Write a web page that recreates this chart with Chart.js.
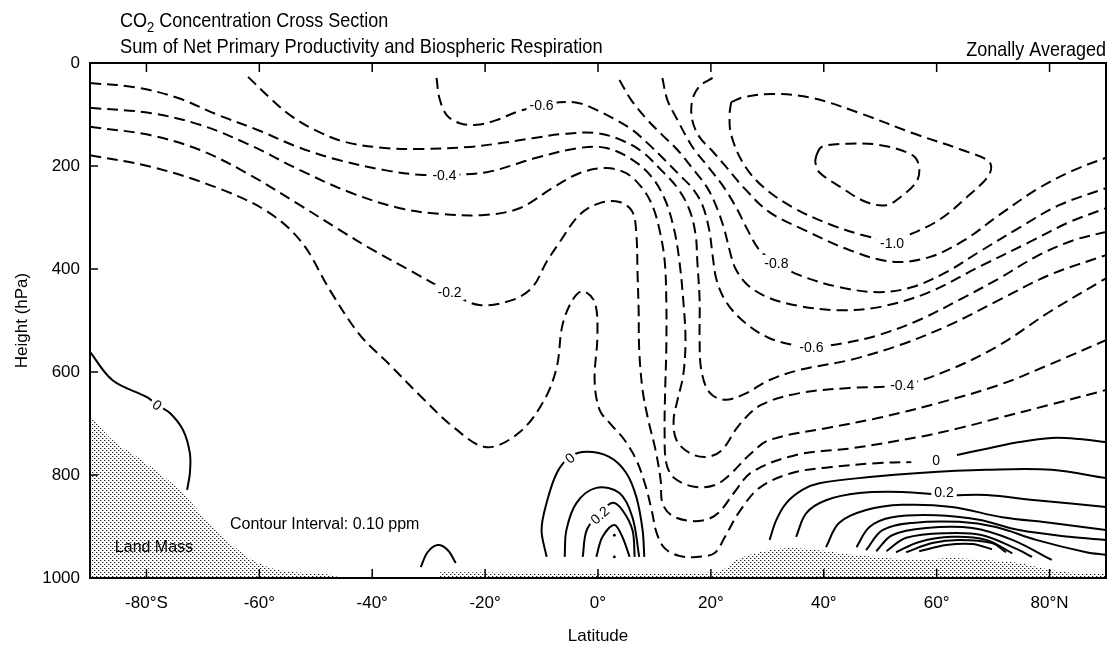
<!DOCTYPE html>
<html>
<head>
<meta charset="utf-8">
<script src="https://cdn.jsdelivr.net/npm/chart.js@4.4.1/dist/chart.umd.min.js"></script>
<style>
  html, body { margin: 0; padding: 0; background: #fff; }
  #wrap { width: 1110px; height: 647px; }
</style>
</head>
<body>
<div id="wrap"><canvas id="chart" width="1110" height="647"></canvas></div>
<script>
const FONT = '"Liberation Sans", Arial, Helvetica, sans-serif';

// Axis ticks
const latTicks = [-80, -60, -40, -20, 0, 20, 40, 60, 80];
const latTickLabels = ['-80°S', '-60°', '-40°', '-20°', '0°', '20°', '40°', '60°', '80°N'];
const pressureTicks = [0, 200, 400, 600, 800, 1000];

// Negative contours (dashed), [latitude, hPa]
const neg01 = [[-90,179],[-79.0,202],[-67.3,243],[-58.5,289],[-52.5,348],[-47.5,441],[-42.2,528],[-36.9,586],[-31.6,645],[-25.4,709],[-19.7,746],[-13.9,717],[-9.5,654],[-7.3,590],[-6.3,509],[-4.5,460],[-2.7,443],[-0.6,464],[-0.1,528],[-0.6,616],[0.3,674],[2.4,703],[4.7,732],[6.8,771],[8.4,820],[9.5,868],[10.4,913],[11.8,942],[14.4,957],[17.4,959],[20.6,952],[22.4,922],[25.0,872],[28.6,825],[34.4,796],[41.0,785],[49.3,777],[55.5,775]];
const neg02 = [[-90,124],[-79.4,140],[-70.5,169],[-61.7,217],[-52.8,276],[-45.8,324],[-39.9,363],[-33.4,402],[-26.3,445],[-21.0,470],[-15.1,460],[-11.6,435],[-9.1,386],[-6.8,348],[-3.3,295],[0.3,272],[3.8,270],[6.1,289],[6.8,334],[7.0,406],[7.2,480],[7.3,557],[7.9,635],[8.9,693],[10.2,752],[11.1,810],[11.4,854],[13.0,878],[16.2,889],[19.4,886],[21.5,872],[24.2,833],[27.3,794],[35.1,761],[45.0,748],[56.9,726],[64.0,709],[71.1,689],[79.9,664],[90,635]];
const neg03 = [[-90,87],[-79.4,97],[-70.5,120],[-61.7,159],[-52.8,208],[-44.0,251],[-35.1,282],[-28.1,293],[-20.1,295],[-13.9,282],[-8.1,243],[-3.3,214],[1.5,204],[5.0,214],[7.7,241],[9.6,276],[10.9,324],[11.8,383],[12.1,460],[12.1,557],[11.9,635],[11.8,713],[12.1,777],[13.5,806],[17.1,823],[20.6,820],[23.3,800],[26.8,761],[30.4,732],[41.5,707],[49.8,689],[60.4,660],[71.1,625],[79.9,586],[90,538]];
const neg04 = [[-90,39],[-82.0,47],[-74.4,68],[-67.3,101],[-60.3,130],[-53.2,163],[-46.1,188],[-37.8,208],[-31.6,217],[-27.2,217],[-19.7,212],[-10.9,184],[-3.3,165],[1.5,165],[6.1,188],[9.5,221],[11.9,266],[13.5,324],[14.4,383],[15.1,460],[15.5,538],[15.1,606],[14.1,654],[13.4,693],[13.9,732],[16.2,757],[19.2,765],[21.9,752],[25.0,703],[28.9,664],[35.7,641],[44.5,631],[53.9,625],[62.2,596],[71.1,548],[79.9,484],[90,418]];
const neg05 = [[-62.0,27],[-58.1,68],[-54.6,101],[-50.2,130],[-44.9,153],[-37.8,165],[-31.6,167],[-22.7,163],[-16.9,155],[-11.6,146],[-6.3,138],[-0.3,136],[4.2,150],[7.9,173],[11.2,208],[14.1,243],[16.2,285],[17.3,334],[17.6,386],[18.0,460],[18.0,538],[18.3,596],[19.7,639],[22.4,654],[25.9,643],[30.3,616],[35.7,596],[44.5,577],[53.4,548],[62.2,509],[71.1,460],[79.9,412],[90,373]];
const neg06 = [[-28.6,29],[-28.1,68],[-26.8,101],[-24.5,117],[-21.5,120],[-18.0,111],[-14.4,95],[-10.0,82],[-6.8,76],[-3.3,78],[-0.3,91],[2.6,107],[6.1,130],[9.1,159],[11.8,188],[14.4,217],[16.7,243],[18.5,276],[19.7,324],[20.3,373],[21.0,421],[22.7,464],[25.9,503],[30.3,534],[35.7,550],[37.8,552],[43.6,544],[49.8,528],[56.9,499],[64.0,460],[71.1,418],[78.1,373],[84.3,344],[90,328]];
const neg07 = [[3.8,33],[5.9,72],[8.8,111],[11.4,140],[14.1,169],[16.7,204],[19.4,243],[21.2,285],[22.4,324],[23.3,363],[24.3,398],[26.5,431],[30.3,456],[35.7,472],[42.7,480],[49.8,474],[58.7,445],[67.5,396],[76.4,348],[83.5,309],[90,282]];
const neg08 = [[11.4,29],[12.3,72],[14.1,111],[15.8,146],[17.1,169],[19.7,204],[22.4,243],[24.7,285],[26.5,324],[28.6,363],[31.6,388],[35.7,412],[42.7,435],[49.8,445],[55.7,435],[61.7,406],[67.5,367],[74.6,320],[81.7,276],[90,243]];
const neg09 = [[20.3,29],[18.0,45],[16.7,72],[16.7,111],[18.0,144],[20.1,169],[22.4,198],[25.9,243],[30.3,289],[36.5,324],[44.5,363],[52.1,386],[58.7,377],[64.9,344],[71.1,295],[78.1,243],[84.3,208],[90,184]];
const neg10 = [[23.6,76],[25.9,66],[31.2,60],[38.0,68],[46.8,99],[55.7,136],[64.5,169],[69.3,192],[69.3,217],[65.8,256],[60.4,305],[54.6,336],[52.1,344],[47.5,336],[41.0,313],[34.8,282],[29.5,243],[25.9,198],[23.6,140],[23.3,101],[23.6,76]];
const neg11 = [[38.7,179],[39.6,163],[44.0,157],[49.8,159],[55.7,179],[56.9,202],[56.4,231],[53.4,262],[51.1,276],[47.5,270],[42.7,239],[39.2,212],[38.5,192],[38.7,179]];

// Zero and positive contours (solid)
const zeroNH = [[63.6,761],[69.3,748],[74.6,736],[80.4,728],[85.2,730],[90,736]];
const zeroSH = [[-90,561],[-86.0,616],[-79.9,649],[-78.1,664],[-75.8,680],[-73.5,713],[-72.3,758],[-72.3,796],[-72.8,829]];
const zeroArc = [[-31.4,979],[-30.2,950],[-28.4,936],[-26.6,946],[-25.2,971]];
const tropic0 = [[-9.1,959],[-10.0,907],[-9.1,854],[-7.3,796],[-5.0,765],[-2.0,755],[2.0,765],[5.0,796],[6.8,843],[7.9,907],[8.2,959]];
const tropic1 = [[-5.9,959],[-5.6,907],[-3.8,854],[-0.3,825],[3.8,835],[6.1,882],[7.3,959]];
const tropic2 = [[-2.7,959],[-2.0,907],[0.3,874],[2.6,854],[4.3,868],[6.1,907],[6.5,959]];
const tropic3 = [[-0.3,959],[0.8,920],[2.9,897],[4.3,920],[5.6,959]];
const tropicDots = [[2.9,917],[2.9,959]];
const north1 = [[30.4,926],[31.6,887],[33.4,854],[36.2,829],[39.2,816],[48.1,804],[56.9,796],[68.8,790],[80.4,790],[90,806]];
const north2 = [[35.1,920],[36.9,874],[40.4,849],[46.3,835],[53.9,833],[61.7,839],[68.8,839],[77.6,849],[90,862]];
const north3 = [[40.4,940],[42.7,893],[47.5,868],[53.9,858],[62.7,862],[71.6,882],[80.4,893],[90,907]];
const north4 = [[45.8,940],[48.1,901],[52.1,882],[59.9,878],[67.5,887],[74.6,907],[83.5,920],[90,926]];
const north5 = [[47.5,946],[50.4,907],[55.7,893],[64.0,891],[70.5,901],[77.6,926],[86.5,950],[90,955]];
const north6 = [[49.3,948],[52.1,917],[58.1,903],[66.3,903],[73.4,926],[80.4,965]];
const north7 = [[51.1,948],[54.6,922],[61.7,913],[68.1,917],[74.6,946],[76.9,959]];
const north8 = [[52.8,950],[56.9,930],[62.7,920],[68.8,926],[73.4,952]];
const north9 = [[54.6,950],[59.2,932],[64.0,926],[69.8,932],[72.3,950]];
const north10 = [[56.9,948],[61.7,936],[66.3,934],[69.8,944]];

// Land mass outline (top edge), filled down to 1000 hPa
const landSouth = [[-90,684],[-86.0,732],[-80.0,777],[-74.1,829],[-69.3,888],[-65.2,932],[-61.2,965],[-56.4,985],[-47.0,994],[-45.8,1000]];
const landNorth = [[-28,989],[21,989],[24.5,965],[28.6,950],[33.4,942],[39.2,946],[45.0,955],[51.0,961],[56.9,965],[62.7,961],[68.8,965],[74.6,971],[80.4,985],[84.3,990],[90,992]];

// Contour labels
const labelText = ['-0.6', '-0.4', '-0.2', '-1.0', '-0.8', '-0.6', '-0.4', '0', '0', '0.2', '0', '0.2'];
const labelLat = [-10.0, -27.2, -26.3, 52.1, 31.6, 37.8, 53.9, -78.1, -5.0, 0.3, 59.9, 61.3];
const labelP = [82, 217, 445, 350, 388, 552, 625, 664, 767, 878, 771, 833];
const labelRot = [0, 0, 0, 0, 0, 0, 0, 35, -40, -42, 0, 0];

// Free text inside the plot
const noteText = ['Contour Interval: 0.10 ppm', 'Land Mass'];
const noteLat = [-65.2, -85.6];
const noteP = [897, 940];

const dashedLines = [neg01, neg02, neg03, neg04, neg05, neg06, neg07, neg08, neg09, neg10, neg11];
const solidLines = [zeroNH, zeroSH, zeroArc, tropic0, tropic1, tropic2, tropic3,
  north1, north2, north3, north4, north5, north6, north7, north8, north9, north10];

const canvas = document.getElementById('chart');

function makeStipple() {
    const c = document.createElement('canvas');
    c.width = 4; c.height = 4;
    const g = c.getContext('2d');
    g.fillStyle = '#1a1a1a';
    g.fillRect(0, 0, 1, 1);
    g.fillRect(2, 2, 1, 1);
    g.fillStyle = '#bbb';
    g.fillRect(1, 0, 1, 1);
    g.fillRect(3, 2, 1, 1);
    return canvas.getContext('2d').createPattern(c, 'repeat');
}

function toXY(points) {
    return points.map(p => ({ x: p[0], y: p[1] }));
}

function contourDataset(points, dashed) {
    return {
        data: toXY(points),
        borderColor: '#000',
        borderWidth: 2,
        borderDash: dashed ? [11, 6] : [],
        pointRadius: 0,
        tension: 0.35,
        fill: false,
        order: 1
    };
}

const stipple = makeStipple();
const datasets = [];
dashedLines.forEach(l => datasets.push(contourDataset(l, true)));
solidLines.forEach(l => datasets.push(contourDataset(l, false)));
datasets.push({
    data: toXY(tropicDots), showLine: false, pointRadius: 1.4,
    pointBackgroundColor: '#000', pointBorderWidth: 0, order: 1
});
[landSouth, landNorth].forEach(l => datasets.push({
    data: toXY(l), borderWidth: 0, borderColor: 'rgba(0,0,0,0)',
    backgroundColor: stipple, fill: { value: 1000 }, pointRadius: 0,
    tension: 0.3, order: 5
}));

// Draw text stretched a little vertically, like the condensed original face
function tallText(ctx, text, x, y) {
    ctx.save();
    ctx.translate(x, y);
    ctx.scale(1, 1.12);
    ctx.fillText(text, 0, 0);
    ctx.restore();
}

// Title texts above the plot
const titlePlugin = {
    id: 'titles',
    afterDraw(chart) {
        const ctx = chart.ctx;
        ctx.save();
        ctx.fillStyle = '#000';
        ctx.textBaseline = 'alphabetic';
        ctx.font = '18px ' + FONT;
        let x = 120;
        tallText(ctx, 'CO', x, 27);
        x += ctx.measureText('CO').width;
        ctx.font = '13px ' + FONT;
        tallText(ctx, '2', x, 32);
        x += ctx.measureText('2').width;
        ctx.font = '18px ' + FONT;
        tallText(ctx, ' Concentration Cross Section', x, 27);
        ctx.font = '18.3px ' + FONT;
        tallText(ctx, 'Sum of Net Primary Productivity and Biospheric Respiration', 120, 53);
        ctx.font = '18px ' + FONT;
        ctx.textAlign = 'right';
        tallText(ctx, 'Zonally Averaged', chart.chartArea.right, 56);
        ctx.restore();
    }
};

// Frame and inward tick marks
const framePlugin = {
    id: 'frame',
    afterDatasetsDraw(chart) {
        const { ctx, chartArea: a, scales: { x, y } } = chart;
        ctx.save();
        ctx.strokeStyle = '#000';
        ctx.lineWidth = 1.5;
        ctx.beginPath();
        latTicks.forEach(v => {
            const px = x.getPixelForValue(v);
            ctx.moveTo(px, a.top); ctx.lineTo(px, a.top + 9);
            ctx.moveTo(px, a.bottom); ctx.lineTo(px, a.bottom - 9);
        });
        pressureTicks.forEach(v => {
            const py = y.getPixelForValue(v);
            ctx.moveTo(a.left, py); ctx.lineTo(a.left + 8, py);
        });
        ctx.stroke();
        ctx.lineWidth = 2;
        ctx.strokeRect(a.left, a.top, a.right - a.left, a.bottom - a.top);
        ctx.restore();
    }
};

// Contour labels with white knock-out, plus notes
const labelPlugin = {
    id: 'contourLabels',
    afterDatasetsDraw(chart) {
        const { ctx, scales: { x, y } } = chart;
        ctx.save();
        ctx.font = '14px ' + FONT;
        ctx.textAlign = 'center';
        ctx.textBaseline = 'middle';
        labelText.forEach((t, i) => {
            const px = x.getPixelForValue(labelLat[i]);
            const py = y.getPixelForValue(labelP[i]);
            ctx.save();
            ctx.translate(px, py);
            ctx.rotate(labelRot[i] * Math.PI / 180);
            const w = ctx.measureText(t).width;
            ctx.fillStyle = '#fff';
            ctx.fillRect(-w / 2 - 3, -8, w + 6, 16);
            ctx.fillStyle = '#000';
            ctx.fillText(t, 0, 1);
            ctx.restore();
        });
        ctx.font = '16px ' + FONT;
        ctx.textAlign = 'left';
        ctx.fillStyle = '#000';
        noteText.forEach((t, i) => {
            ctx.fillText(t, x.getPixelForValue(noteLat[i]), y.getPixelForValue(noteP[i]));
        });
        ctx.restore();
    }
};

new Chart(canvas, {
    type: 'line',
    data: { datasets: datasets },
    options: {
        responsive: false,
        animation: false,
        events: [],
        layout: { padding: { left: 0, right: 3, top: 63, bottom: 0 } },
        plugins: { legend: { display: false }, tooltip: { enabled: false } },
        scales: {
            x: {
                type: 'linear', min: -90, max: 90,
                afterBuildTicks: s => { s.ticks = latTicks.map(v => ({ value: v })); },
                ticks: {
                    autoSkip: false, maxRotation: 0, padding: 15, color: '#000',
                    font: { family: FONT, size: 17 },
                    callback: v => latTickLabels[latTicks.indexOf(v)]
                },
                grid: { display: false, drawTicks: false },
                border: { display: false },
                title: { display: true, text: 'Latitude', color: '#000', font: { family: FONT, size: 17 }, padding: { top: 0, bottom: 0 } },
                afterFit: s => { s.height = 69; }
            },
            y: {
                type: 'linear', reverse: true, min: 0, max: 1000,
                afterBuildTicks: s => { s.ticks = pressureTicks.map(v => ({ value: v })); },
                ticks: {
                    autoSkip: false, padding: 10, color: '#000',
                    font: { family: FONT, size: 17 },
                    callback: v => String(v)
                },
                grid: { display: false, drawTicks: false },
                border: { display: false },
                title: { display: true, text: 'Height (hPa)', color: '#000', font: { family: FONT, size: 17 }, padding: { top: 12, bottom: 0 } },
                afterFit: s => { s.width = 90; }
            }
        }
    },
    plugins: [titlePlugin, framePlugin, labelPlugin]
});
</script>
</body>
</html>
